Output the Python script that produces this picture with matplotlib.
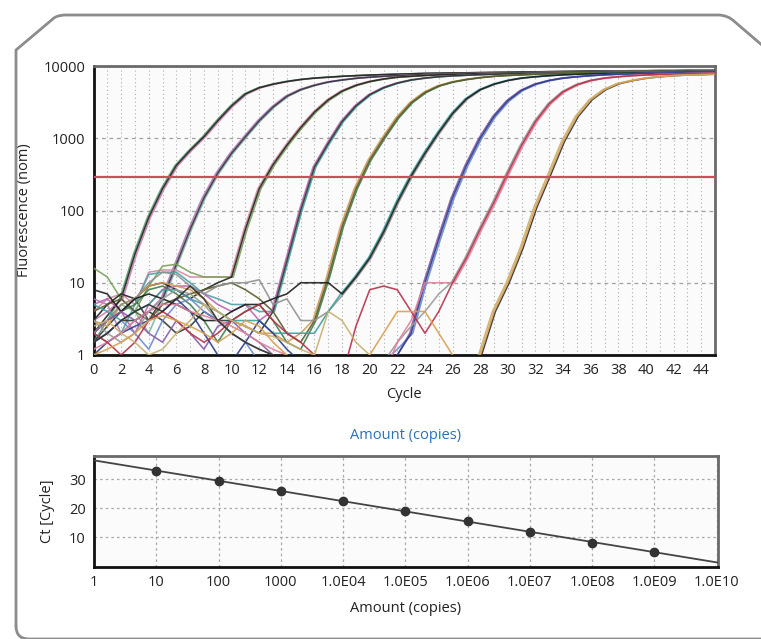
import numpy as np
import matplotlib
matplotlib.use("Agg")
import matplotlib.pyplot as plt
from matplotlib.path import Path
from matplotlib.patches import PathPatch
from matplotlib.ticker import FixedLocator, NullLocator, MultipleLocator

plt.rcParams['font.family'] = ['Open Sans', 'DejaVu Sans']

# ---------------- data ----------------
threshold = 290

cycle_ticks = list(range(0, 46, 2))[:23]
fluor_ticks = [1, 10, 100, 1000, 10000]

group_start = [2, 5, 10, 13, 16, 18, 23, 26, 28]

rise_g1 = [6, 25, 80, 200, 420, 680, 1050, 1750, 2800, 4100, 5000, 5600, 6100, 6500, 6800,
           7000, 7200, 7350, 7500, 7600, 7700, 7800, 7900, 7950, 8000, 8050, 8100, 8150,
           8200, 8250, 8300, 8350, 8400, 8450, 8500, 8500, 8550, 8600, 8600, 8650, 8650,
           8700, 8700, 8700]
rise_g2 = [6, 18, 55, 150, 330, 620, 1050, 1750, 2700, 3800, 4700, 5400, 6000, 6400, 6750,
           7000, 7200, 7350, 7500, 7600, 7700, 7800, 7850, 7900, 7950, 8000, 8050, 8100,
           8150, 8200, 8250, 8300, 8350, 8400, 8450, 8450, 8500, 8500, 8550, 8550, 8600]
rise_g3 = [12, 55, 200, 430, 800, 1400, 2300, 3400, 4500, 5400, 6100, 6600, 7000, 7200,
           7400, 7550, 7650, 7750, 7850, 7900, 7950, 8000, 8050, 8100, 8150, 8200, 8250,
           8300, 8350, 8400, 8400, 8450, 8450, 8500, 8500, 8500]
rise_g4 = [4, 20, 100, 400, 850, 1700, 2800, 4000, 5000, 5800, 6400, 6800, 7100, 7300,
           7450, 7600, 7700, 7800, 7850, 7900, 7950, 8000, 8050, 8100, 8150, 8200, 8250,
           8300, 8300, 8350, 8350, 8400, 8400]
rise_g5 = [3, 12, 60, 200, 500, 1000, 1900, 3100, 4300, 5300, 6000, 6500, 6900, 7200,
           7400, 7550, 7700, 7800, 7900, 7950, 8000, 8050, 8100, 8150, 8200, 8250, 8300,
           8300, 8350, 8350]
rise_g6 = [7, 12, 22, 50, 130, 300, 620, 1200, 2200, 3500, 4700, 5600, 6300, 6800, 7100,
           7350, 7550, 7700, 7800, 7900, 7950, 8000, 8050, 8100, 8150, 8200, 8250, 8300]
rise_g7 = [2, 10, 40, 150, 420, 1000, 2000, 3300, 4600, 5600, 6300, 6800, 7100, 7350,
           7550, 7700, 7800, 7900, 7950, 8000, 8050, 8100, 8150]
rise_g8 = [10, 22, 55, 130, 330, 800, 1700, 3000, 4400, 5500, 6300, 6800, 7100, 7350,
           7500, 7650, 7750, 7850, 7900, 7950]
rise_g9 = [1, 4, 10, 30, 110, 310, 900, 2000, 3400, 4700, 5700, 6300, 6800, 7100, 7350,
           7500, 7600, 7700]
group_rise = [rise_g1, rise_g2, rise_g3, rise_g4, rise_g5, rise_g6, rise_g7, rise_g8, rise_g9]

noise_g1 = [[3, 4], [1.5, 3], [2, 3.5]]
noise_g2 = [[2, 3, 5, 4, 2], [6, 5, 2, 3, 4], [1.5, 2.5, 4, 6, 3]]
noise_g3 = [[4, 6, 7, 5, 14, 15, 15, 12, 12, 12],
            [16, 12, 6, 4, 9, 17, 18, 14, 12, 12],
            [3, 5, 7, 6, 9, 10, 8, 6, 8, 10]]
noise_g4 = [[2, 1.5, 2, 5, 13, 14, 14, 10, 7, 6, 5, 5, 4],
            [5, 6, 4, 2, 5, 8, 9, 9, 7, 5, 4, 5, 3],
            [1.5, 2, 3, 3, 4, 3, 2, 2.5, 4, 3, 3, 2.5, 2]]
noise_g5 = [[3, 2.5, 5, 6, 9, 10, 9, 8, 6, 4, 3, 2.5, 2, 2, 1.5, 2],
            [2, 3, 4, 5, 8, 9, 7, 5, 3, 1.5, 3, 4, 5, 3, 1.5, 1.2],
            [4, 5, 6, 4, 3, 5, 6, 7, 8, 9, 10, 8, 6, 4, 2, 1.5]]
noise_g6 = [[2, 3, 5, 6, 10, 14, 13, 9, 7, 9, 10, 10, 11, 5, 6, 3, 3, 4],
            [5, 4, 3, 4, 5, 8, 8, 6, 5, 4, 3, 3, 3, 2, 2, 2, 2, 4],
            [8, 7, 4, 6, 7, 6, 5, 4, 3, 3, 4, 5, 5, 6, 7, 10, 10, 10]]
noise_g7 = [[1.5, 2, 3, 2, 1.2, 3, 5, 6, 4, 3, 2, 1.5, 0.8, 0.5, 0.5, 0.5, 0.5, 0.5, 0.5, 0.5, 0.5, 0.8, 1.2],
            [2, 3, 4, 3, 2, 1.5, 3, 2, 1.2, 2.5, 3, 2, 1.5, 1, 0.6, 0.5, 0.5, 0.5, 0.5, 0.5, 0.5, 0.5, 1],
            [1, 1.5, 2, 2.5, 3, 4, 6, 4, 2, 1, 0.8, 1.5, 3, 2, 1.2, 0.8, 0.5, 0.5, 0.5, 0.5, 0.5, 0.6, 1]]
noise_g8 = [[3, 2, 1.5, 2, 4, 6, 8, 7, 5, 3, 2, 1.5, 1.2, 1, 0.6, 0.5, 0.5, 0.5, 0.5, 0.5, 0.5, 0.8, 1.5, 2.5, 4, 7],
            [1.2, 1.5, 2, 3, 4, 5, 5, 4, 3.5, 3, 2.5, 2, 1.5, 1.2, 1, 0.7, 0.5, 0.5, 0.5, 0.5, 0.5, 0.5, 1.5, 3, 10, 10],
            [2, 1.5, 1, 1.5, 3, 4, 3, 2, 1.5, 2, 3, 4, 5, 3, 2, 1.5, 1, 0.5, 0.5, 2.5, 8, 9, 8, 4, 2, 4]]
noise_g9 = [[1.5, 2, 3, 4, 5, 4, 6, 9, 6, 3, 2, 1.5, 1.2, 1, 0.6, 0.5, 0.5, 0.5, 0.5, 0.5, 0.5, 0.5, 0.5, 0.5, 0.5, 0.5, 0.5, 0.6],
            [2.5, 3, 2, 1.5, 1, 1.2, 2, 3, 5, 4, 3, 2.5, 2, 1.8, 1.5, 1.2, 1, 4, 3, 1.5, 1, 0.5, 0.5, 0.5, 0.5, 0.5, 0.5, 0.6],
            [1, 1.2, 1.5, 2, 3, 3.5, 3, 2.5, 2, 1.5, 2, 3, 2.5, 1.5, 1, 0.5, 0.5, 0.5, 0.5, 0.5, 1, 2, 4, 4, 4, 2, 1, 0.6]]
group_noise = [noise_g1, noise_g2, noise_g3, noise_g4, noise_g5, noise_g6, noise_g7, noise_g8, noise_g9]

# replicate Ct offsets (cycles)
rep_delay = [[0.12, -0.1, 0.0], [0.1, -0.12, 0.0], [-0.1, 0.12, 0.0],
             [0.1, -0.1, 0.0], [-0.12, 0.1, 0.0], [0.1, -0.1, 0.0],
             [0.12, -0.1, 0.0], [-0.1, 0.12, 0.0], [0.1, -0.12, 0.0]]
rep_colors = [['#c97fae', '#5e9e6e', '#222222'],
              ['#7fb3a6', '#b07ab8', '#3a3040'],
              ['#d48aa0', '#7aa05a', '#222222'],
              ['#4aa0a8', '#c060b0', '#263a30'],
              ['#d49a50', '#3f7a4a', '#5a5a2a'],
              ['#909090', '#3aa0a0', '#1a1a1a'],
              ['#6a8ad0', '#8a5aa8', '#2c3c8c'],
              ['#9a9a9a', '#e0809a', '#b83048'],
              ['#2e2e2e', '#c8b070', '#d8a050']]

# standard curve
std_amount = [1e1, 1e2, 1e3, 1e4, 1e5, 1e6, 1e7, 1e8, 1e9]
std_ct = [32.8, 29.5, 26.1, 22.4, 19.1, 15.6, 12.0, 8.2, 4.9]
amount_ticks = [1e0, 1e1, 1e2, 1e3, 1e4, 1e5, 1e6, 1e7, 1e8, 1e9, 1e10]
amount_labels = ['1', '10', '100', '1000', '1.0E04', '1.0E05', '1.0E06',
                 '1.0E07', '1.0E08', '1.0E09', '1.0E10']
ct_ticks = [10, 20, 30]

# ---------------- figure ----------------
W, H = 761, 639
fig = plt.figure(figsize=(W / 100, H / 100), dpi=100)
fig.patch.set_facecolor('white')


def fx(px):
    return px / W


def fy(py):
    return 1 - py / H


# border
verts = [(16, 626), (16, 50), (54, 18), (58, 15), (66, 15), (718, 15), (728, 15), (735, 22), (770, 52)]
codes = [Path.MOVETO, Path.LINETO, Path.LINETO, Path.CURVE3, Path.CURVE3, Path.LINETO,
         Path.CURVE3, Path.CURVE3, Path.LINETO]
verts2 = [(16, 626), (16, 639), (29, 639), (800, 639)]
codes2 = [Path.MOVETO, Path.CURVE3, Path.CURVE3, Path.LINETO]
for vv, cc in ((verts, codes), (verts2, codes2)):
    p = Path([(fx(a), fy(b)) for a, b in vv], cc)
    fig.patches.append(PathPatch(p, transform=fig.transFigure, fill=False,
                                 edgecolor='#8c8c8c', lw=2.0, capstyle='round',
                                 joinstyle='round'))

# ---------- top: amplification plot ----------
ax = fig.add_axes([fx(93.5), fy(355), fx(715) - fx(93.5), fy(66) - fy(355)])
ax.set_facecolor('#fbfbfb')
ax.set_yscale('log')
ax.set_xlim(0, 45)
ax.set_ylim(1, 10000)

for g in range(len(group_rise)):
    s = group_start[g]
    rise = group_rise[g]
    for r in range(3):
        pre = group_noise[g][r][:s]
        xs = list(range(len(pre))) + [s + i + rep_delay[g][r] for i in range(len(rise))]
        ys = list(pre) + list(rise)
        ax.plot(xs, ys, color=rep_colors[g][r], lw=1.15, alpha=0.9, zorder=3)

ax.axhline(threshold, color='#c8505a', lw=1.6, zorder=4)

ax.xaxis.set_major_locator(FixedLocator(cycle_ticks))
ax.xaxis.set_minor_locator(MultipleLocator(1))
ax.yaxis.set_major_locator(FixedLocator(fluor_ticks))
ax.yaxis.set_minor_locator(NullLocator())
ax.set_yticklabels([str(v) for v in fluor_ticks])
ax.grid(which='both', axis='x', color='#b0b0b0', lw=0.8, linestyle=(0, (1, 2.5)), zorder=0)
ax.grid(which='major', axis='y', color='#a0a0a0', lw=0.9, linestyle=(0, (3, 3)), zorder=0)
ax.tick_params(which='both', length=0, labelsize=10.5, colors='#222222', pad=6)
ax.set_xlabel('Cycle', fontsize=10.5, color='#222222', labelpad=6)
ax.set_ylabel('Fluorescence (nom)', fontsize=10.5, color='#222222', labelpad=8)
for side in ('left', 'bottom'):
    ax.spines[side].set_color('#111111')
    ax.spines[side].set_linewidth(2.0)
for side in ('top', 'right'):
    ax.spines[side].set_color('#6a6a6a')
    ax.spines[side].set_linewidth(2.0)

# ---------- bottom: standard curve ----------
bx = fig.add_axes([fx(94), fy(566.5), fx(718) - fx(94), fy(456) - fy(566.5)])
bx.set_facecolor('#fbfbfb')
bx.set_xscale('log')
bx.set_xlim(1, 10 ** 10.02)
bx.set_ylim(0, 38)

coef = np.polyfit(np.log10(std_amount), std_ct, 1)
xl = np.array([1.0, 10 ** 10.02])
bx.plot(xl, np.polyval(coef, np.log10(xl)), color='#444444', lw=1.3, zorder=3)
bx.plot(std_amount, std_ct, 'o', color='#333333', ms=6, zorder=4)

bx.xaxis.set_major_locator(FixedLocator(amount_ticks))
bx.xaxis.set_minor_locator(NullLocator())
bx.set_xticklabels(amount_labels)
bx.yaxis.set_major_locator(FixedLocator(ct_ticks))
bx.grid(which='major', axis='both', color='#a8a8a8', lw=0.9, linestyle=(0, (2, 2.5)), zorder=0)
bx.tick_params(which='both', length=0, labelsize=10.5, colors='#222222', pad=6)
bx.set_xlabel('Amount (copies)', fontsize=10.5, color='#222222', labelpad=8)
bx.set_ylabel('Ct [Cycle]', fontsize=10.5, color='#222222', labelpad=10)
bx.set_title('Amount (copies)', fontsize=10.5, color='#2a72b8', pad=12)
for side in ('left', 'bottom'):
    bx.spines[side].set_color('#111111')
    bx.spines[side].set_linewidth(2.0)
for side in ('top', 'right'):
    bx.spines[side].set_color('#6a6a6a')
    bx.spines[side].set_linewidth(2.0)

fig.savefig('out.png', dpi=100)
